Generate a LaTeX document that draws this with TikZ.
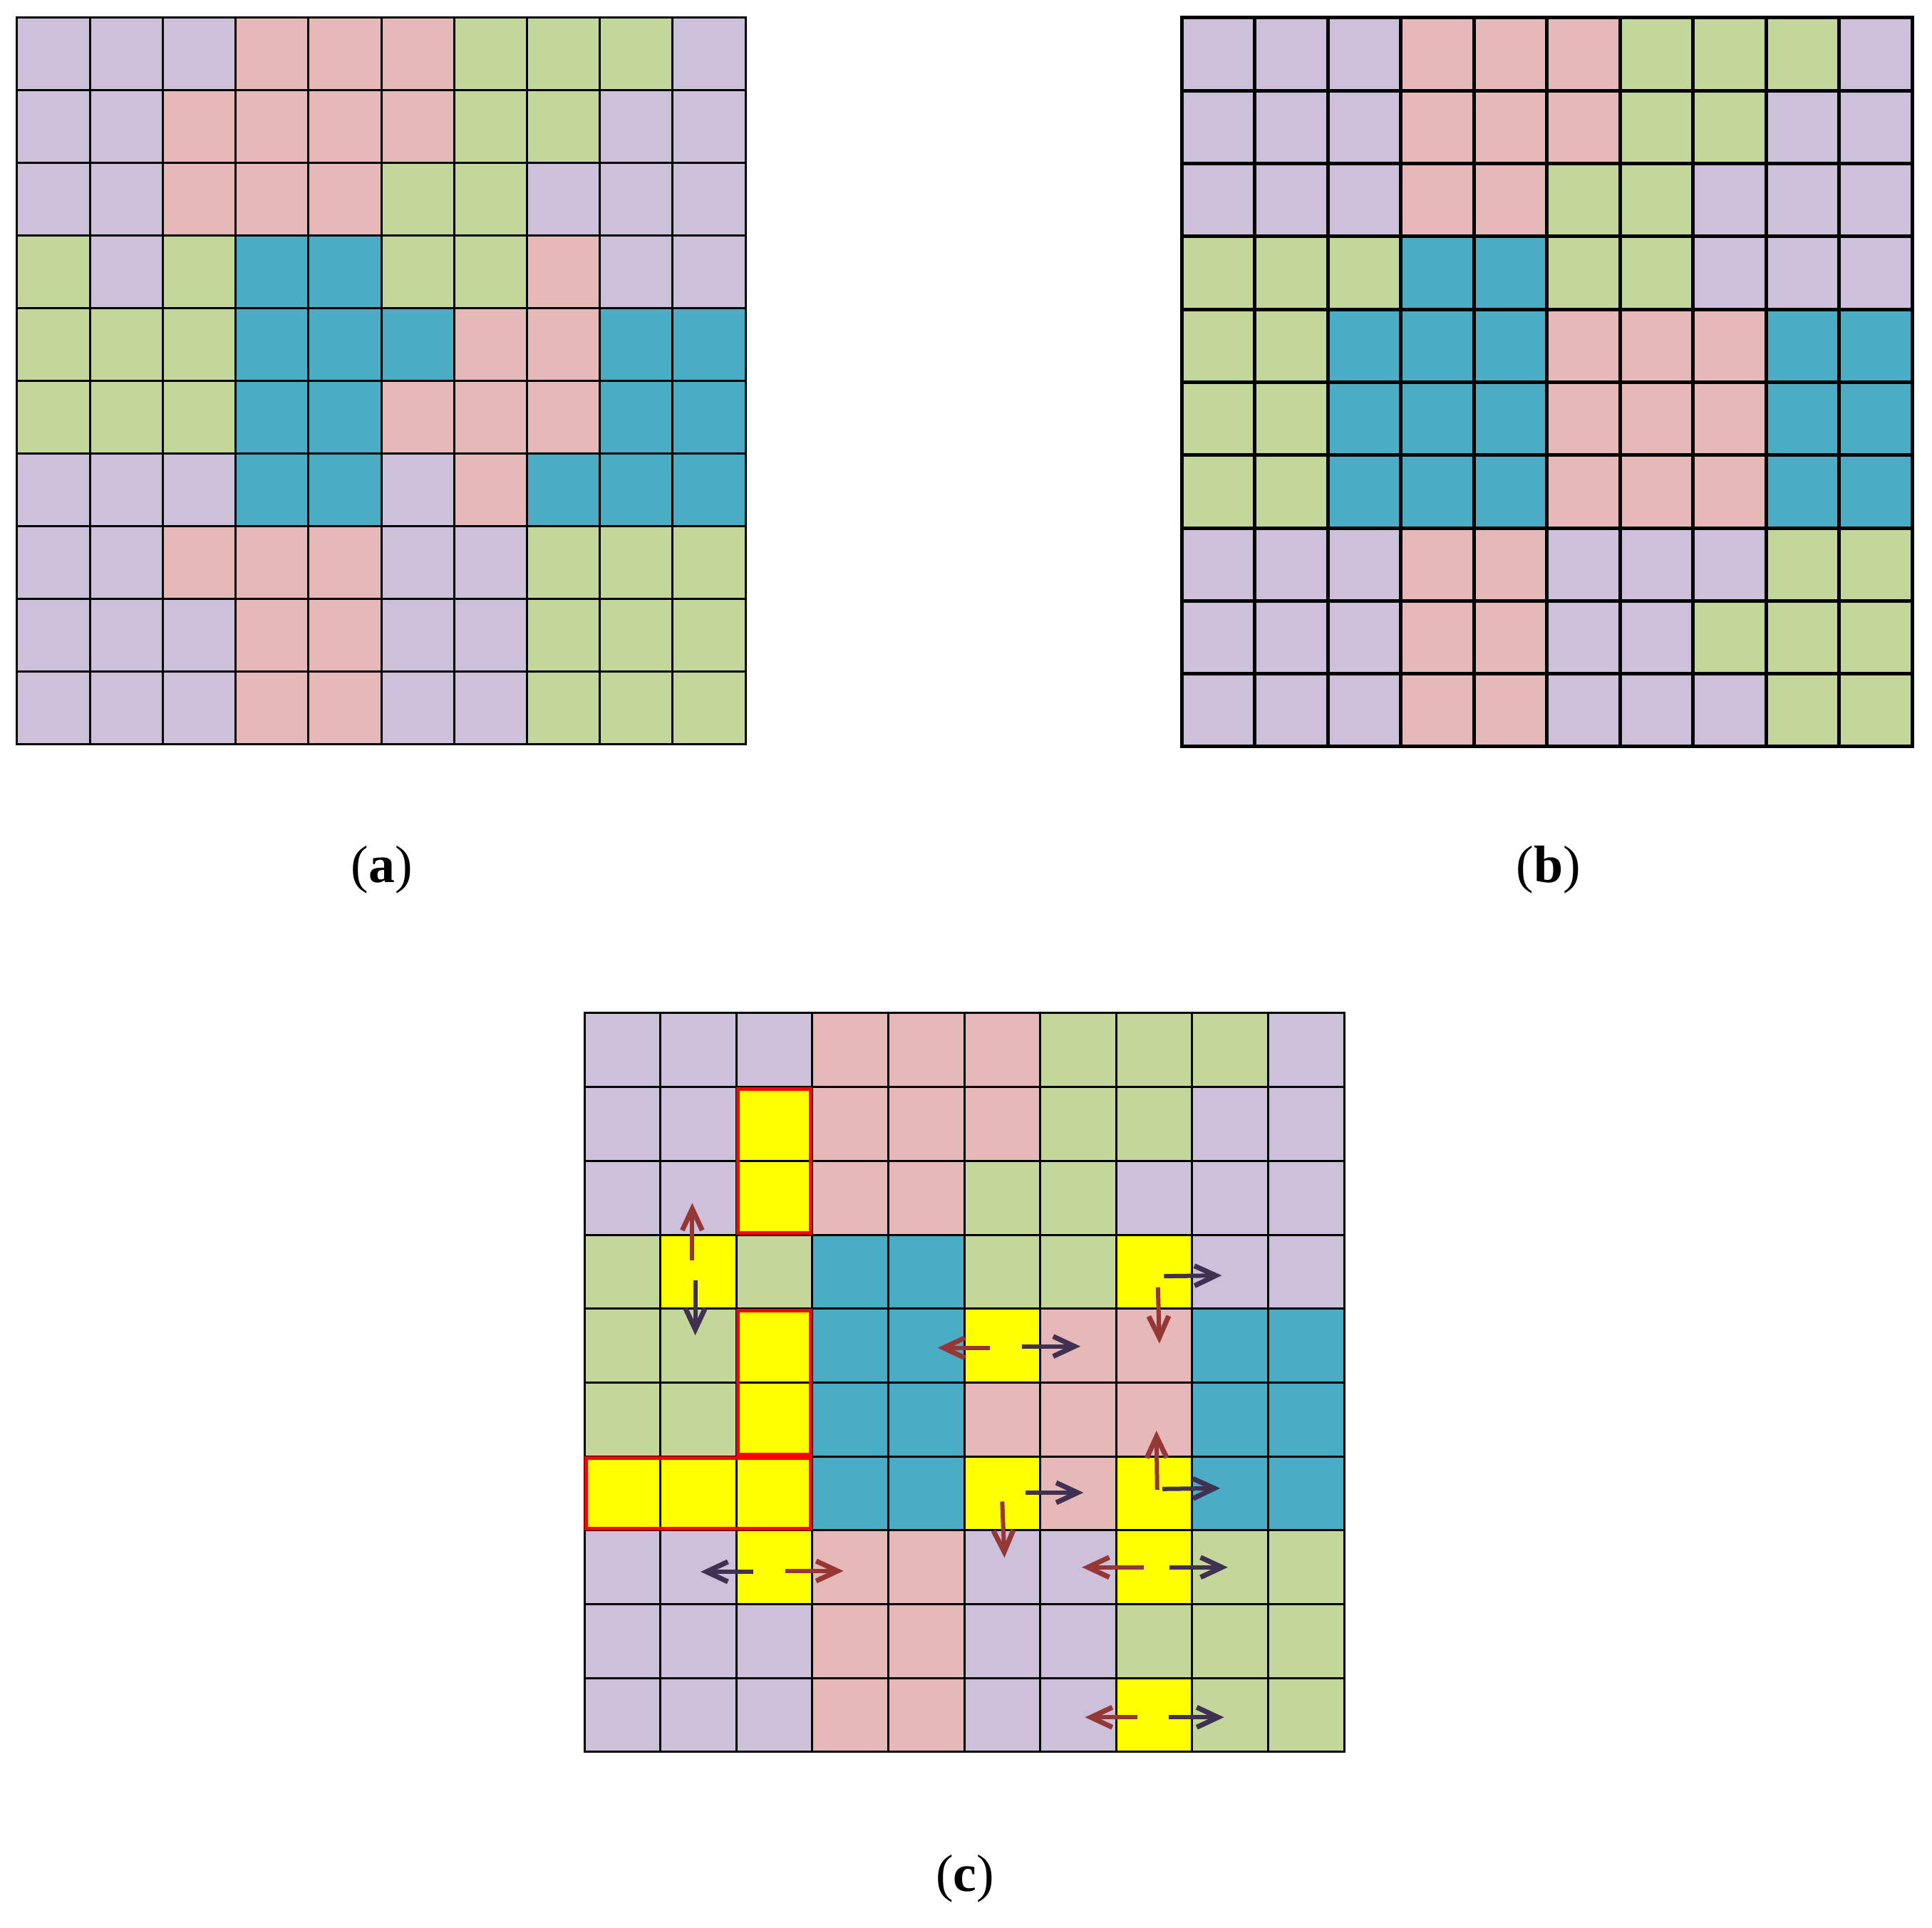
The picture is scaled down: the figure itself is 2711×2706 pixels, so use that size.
\documentclass[tikz,border=0pt]{standalone}
\usepackage{fontspec}
\setmainfont{Liberation Serif}
\usetikzlibrary{arrows.meta}
\definecolor{cL}{HTML}{CCC0DA}
\definecolor{cP}{HTML}{E6B8B7}
\definecolor{cG}{HTML}{C4D79B}
\definecolor{cB}{HTML}{4BACC6}
\definecolor{cY}{HTML}{FFFF00}
\definecolor{arrRed}{HTML}{953735}
\definecolor{arrDark}{HTML}{403152}
\newcommand\gridcells[1]{%
  \foreach \rw [count=\ri from 0] in {#1} {%
    \foreach \cc [count=\ci from 0] in \rw {%
      \fill[fill=c\cc] (\ci,\ri) rectangle ++(1,1);
    }%
  }%
}
\newcommand\gridlines{%
  \foreach \gi in {0,...,10} {%
    \draw (\gi,0) -- (\gi,10);
    \draw (0,\gi) -- (10,\gi);
  }%
}
\tikzset{
  gridline/.style={line width=0.3mm, line cap=rect, draw=black},
  gridthick/.style={line width=0.5mm, line cap=rect, draw=black},
  redbox/.style={draw=red, line width=0.5mm, line join=miter},
  arr/.style={line width=0.6mm, -{Straight Barb[length=3mm,width=2.8mm,line width=0.7mm]}},
  redarr/.style={arr, draw=arrRed},
  darkarr/.style={arr, draw=arrDark},
  caption/.style={font=\fontsize{21}{25}\selectfont, inner sep=0pt}
}
\begin{document}
\begin{tikzpicture}[x=0.1mm,y=-0.1mm]
\useasboundingbox (0,0) rectangle (2711,2706);

% (a)
\begin{scope}[shift={(2.4mm,-2.5mm)}, x=10.22mm, y=-10.2mm]
\gridcells{{L,L,L,P,P,P,G,G,G,L},{L,L,P,P,P,P,G,G,L,L},{L,L,P,P,P,G,G,L,L,L},{G,L,G,B,B,G,G,P,L,L},{G,G,G,B,B,B,P,P,B,B},{G,G,G,B,B,P,P,P,B,B},{L,L,L,B,B,L,P,B,B,B},{L,L,P,P,P,L,L,G,G,G},{L,L,L,P,P,L,L,G,G,G},{L,L,L,P,P,L,L,G,G,G}}
\begin{scope}[gridline]\gridlines\end{scope}
\end{scope}

% (b)
\begin{scope}[shift={(165.8mm,-2.5mm)}, x=10.25mm, y=-10.23mm]
\gridcells{{L,L,L,P,P,P,G,G,G,L},{L,L,L,P,P,P,G,G,L,L},{L,L,L,P,P,G,G,L,L,L},{G,G,G,B,B,G,G,L,L,L},{G,G,B,B,B,P,P,P,B,B},{G,G,B,B,B,P,P,P,B,B},{G,G,B,B,B,P,P,P,B,B},{L,L,L,P,P,L,L,L,G,G},{L,L,L,P,P,L,L,G,G,G},{L,L,L,P,P,L,L,L,G,G}}
\begin{scope}[gridthick]\gridlines\end{scope}
\end{scope}

% (c)
\begin{scope}[shift={(82mm,-142.2mm)}, x=10.66mm, y=-10.37mm]
\gridcells{{L,L,L,P,P,P,G,G,G,L},{L,L,Y,P,P,P,G,G,L,L},{L,L,Y,P,P,G,G,L,L,L},{G,Y,G,B,B,G,G,Y,L,L},{G,G,Y,B,B,Y,P,P,B,B},{G,G,Y,B,B,P,P,P,B,B},{Y,Y,Y,B,B,Y,P,Y,B,B},{L,L,Y,P,P,L,L,Y,G,G},{L,L,L,P,P,L,L,G,G,G},{L,L,L,P,P,L,L,Y,G,G}}
\begin{scope}[gridline]\gridlines\end{scope}
\draw[redbox] ([shift={(0.25mm,-0.25mm)}]2,1) rectangle ([shift={(-0.25mm,0.25mm)}]3,3);
\draw[redbox] ([shift={(0.25mm,-0.25mm)}]2,4) rectangle ([shift={(-0.25mm,0.25mm)}]3,6);
\draw[redbox] ([shift={(0.25mm,-0.25mm)}]0,6) rectangle ([shift={(-0.25mm,0.25mm)}]3,7);
% arrows
\draw[redarr]  (1.42,3.35) -- (1.42,2.57);
\draw[darkarr] (1.46,3.62) -- (1.46,4.36);
\draw[darkarr] (2.225,7.56) -- (1.53,7.56);
\draw[redarr]  (2.65,7.55) -- (3.41,7.55);
\draw[darkarr] (7.63,3.56) -- (8.39,3.55);
\draw[redarr]  (7.55,3.71) -- (7.57,4.47);
\draw[redarr]  (5.34,4.53) -- (4.65,4.53);
\draw[darkarr] (5.76,4.51) -- (6.53,4.51);
\draw[redarr]  (7.54,6.45) -- (7.53,5.65);
\draw[darkarr] (7.61,6.44) -- (8.37,6.43);
\draw[darkarr] (5.81,6.49) -- (6.57,6.49);
\draw[redarr]  (5.50,6.61) -- (5.53,7.37);
\draw[redarr]  (7.36,7.50) -- (6.55,7.50);
\draw[darkarr] (7.70,7.50) -- (8.47,7.50);
\draw[redarr]  (7.28,9.53) -- (6.59,9.53);
\draw[darkarr] (7.69,9.53) -- (8.42,9.53);
\end{scope}

\node[caption] (capa) at (536,1221) {(\textbf{a})};
\node[caption] (capb) at (2173,1221) {(\textbf{b})};
\node[caption] (capc) at (1354,2637) {(\textbf{c})};
\end{tikzpicture}
\end{document}
